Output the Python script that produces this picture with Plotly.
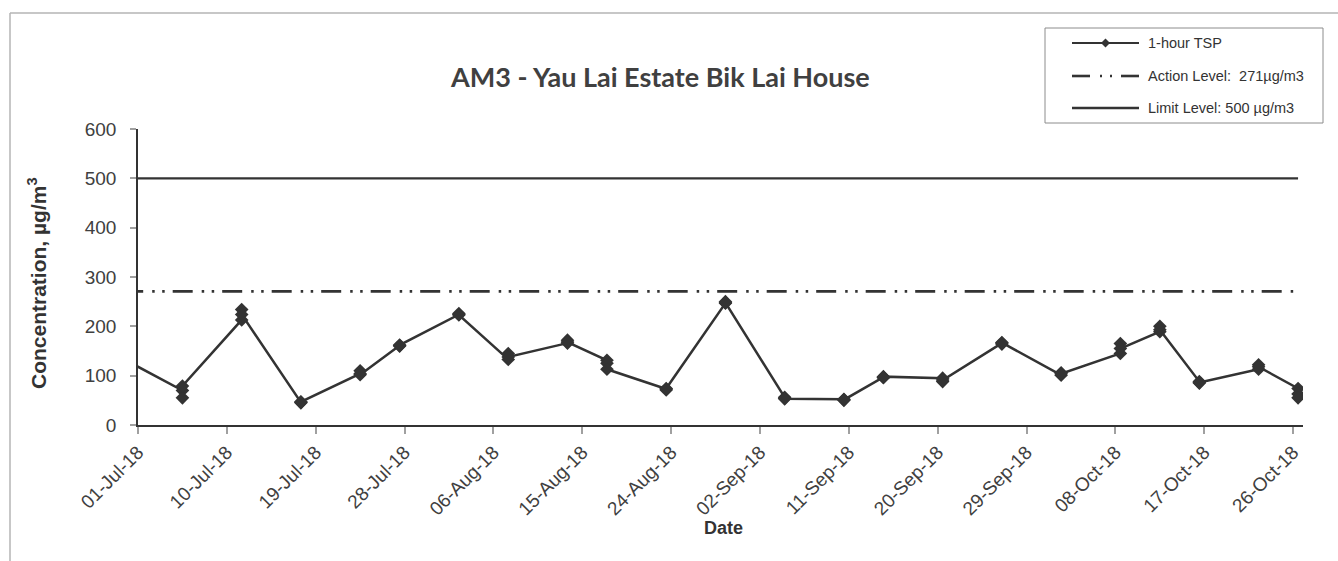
import pandas as pd
import plotly.graph_objects as go

# Monitoring days (three consecutive 1-hour readings per day)
sample_days = [
    "2018-06-29", "2018-07-05", "2018-07-11", "2018-07-17", "2018-07-23",
    "2018-07-27", "2018-08-02", "2018-08-07", "2018-08-13", "2018-08-17",
    "2018-08-23", "2018-08-29", "2018-09-04", "2018-09-10", "2018-09-14",
    "2018-09-20", "2018-09-26", "2018-10-02", "2018-10-08", "2018-10-12",
    "2018-10-16", "2018-10-22", "2018-10-26",
]
# 1-hour TSP readings, µg/m3 (three per monitoring day)
tsp_readings = [
    [140, 136, 134], [70, 55, 79], [213, 234, 224], [46, 45, 47],
    [104, 110, 102], [161, 160, 162], [224, 226, 223], [133, 145, 138],
    [166, 172, 168], [131, 125, 113], [73, 71, 74], [247, 250, 248],
    [56, 54, 53], [52, 50, 51], [97, 96, 98], [95, 88, 91],
    [166, 164, 167], [101, 106, 104], [145, 165, 155], [189, 200, 193],
    [88, 85, 86], [113, 122, 118], [74, 63, 55],
]
action_level = 271
limit_level = 500
series_names = ["1-hour TSP", "Action Level:  271µg/m3", "Limit Level: 500 µg/m3"]
chart_title = "AM3 - Yau Lai Estate Bik Lai House"
y_ticks = [0, 100, 200, 300, 400, 500, 600]

# Each day's readings sit in the middle of that day's slot on the date axis
day_centres = pd.to_datetime(sample_days) + pd.Timedelta(hours=12)
tsp_x, tsp_y = [], []
for d, vals in zip(day_centres, tsp_readings):
    for v in vals:
        tsp_x.append(d)
        tsp_y.append(v)

W, H = 1338, 561
L, R, T, B = 138, 35, 129, 136
PW, PH = W - L - R, H - T - B
INK = "#333333"
TXT = "#404040"
SANS = "Liberation Sans, Arial"


def px(x):
    return (x - L) / PW


def py(y):
    return (H - B - y) / PH


ACTION_DASH = "20px,9px,2.5px,7.5px,2.5px,8px"

fig = go.Figure()
fig.add_trace(go.Scatter(
    x=[day_centres[0], day_centres[-1]], y=[limit_level, limit_level],
    mode="lines", line=dict(color=INK, width=2.2), name=series_names[2],
    showlegend=False, hoverinfo="skip"))
fig.add_trace(go.Scatter(
    x=[day_centres[0], day_centres[-1]], y=[action_level, action_level],
    mode="lines", line=dict(color=INK, width=2.8, dash=ACTION_DASH),
    name=series_names[1], showlegend=False, hoverinfo="skip"))
fig.add_trace(go.Scatter(
    x=tsp_x, y=tsp_y, mode="lines+markers", name=series_names[0],
    line=dict(color=INK, width=2.5),
    marker=dict(symbol="diamond", size=10.5, color=INK,
                line=dict(width=0)),
    cliponaxis=True, showlegend=False))

shapes = []
# frame edges (top and left)
shapes.append(dict(type="line", xref="paper", yref="paper",
                   x0=px(10), x1=px(W + 5), y0=py(13), y1=py(13),
                   line=dict(color="#b4b4b4", width=1.5)))
shapes.append(dict(type="line", xref="paper", yref="paper",
                   x0=px(10), x1=px(10), y0=py(13), y1=py(H + 5),
                   line=dict(color="#b4b4b4", width=1.5)))

# legend box
lx0, lx1, ly0, ly1 = 1045, 1323, 28, 123
shapes.append(dict(type="rect", xref="paper", yref="paper",
                   x0=px(lx0), x1=px(lx1), y0=py(ly0), y1=py(ly1),
                   line=dict(color="#8c8c8c", width=1), fillcolor="white"))
rows = [43, 76, 108]
sx0, sx1 = 1072, 1139
shapes.append(dict(type="line", xref="paper", yref="paper",
                   x0=px(sx0), x1=px(sx1), y0=py(rows[0]), y1=py(rows[0]),
                   line=dict(color=INK, width=2.2)))
dm = 4.5
cx = (sx0 + sx1) / 2
shapes.append(dict(type="path", xref="paper", yref="paper",
                   path=(f"M {px(cx - dm)},{py(rows[0])} L {px(cx)},{py(rows[0] - dm)} "
                         f"L {px(cx + dm)},{py(rows[0])} L {px(cx)},{py(rows[0] + dm)} Z"),
                   fillcolor=INK, line=dict(width=0)))
shapes.append(dict(type="line", xref="paper", yref="paper",
                   x0=px(sx0), x1=px(sx0 + 18), y0=py(rows[1]), y1=py(rows[1]),
                   line=dict(color=INK, width=2.6)))
for dx in (29, 39):
    shapes.append(dict(type="line", xref="paper", yref="paper",
                       x0=px(sx0 + dx - 1), x1=px(sx0 + dx + 1),
                       y0=py(rows[1]), y1=py(rows[1]),
                       line=dict(color=INK, width=2.4)))
shapes.append(dict(type="line", xref="paper", yref="paper",
                   x0=px(sx1 - 18), x1=px(sx1), y0=py(rows[1]), y1=py(rows[1]),
                   line=dict(color=INK, width=2.6)))
shapes.append(dict(type="line", xref="paper", yref="paper",
                   x0=px(sx0), x1=px(sx1), y0=py(rows[2]), y1=py(rows[2]),
                   line=dict(color=INK, width=2.6)))

annotations = []
for name, ry in zip(series_names, rows):
    annotations.append(dict(xref="paper", yref="paper", x=px(1146), y=py(ry),
                            xanchor="left", yanchor="middle", showarrow=False,
                            text=name, font=dict(family=SANS, size=14.5, color=INK)))
annotations.append(dict(xref="paper", yref="paper", x=px(660), y=py(76),
                        xanchor="center", yanchor="middle", showarrow=False,
                        text=f"<b>{chart_title}</b>",
                        font=dict(family="Lato", size=27, color=TXT)))
annotations.append(dict(xref="paper", yref="paper", x=px(37), y=py(283),
                        xanchor="center", yanchor="middle", showarrow=False,
                        textangle=-90, text="<b>Concentration, µg/m<sup>3</sup></b>",
                        font=dict(family=SANS, size=21, color=INK)))
annotations.append(dict(xref="paper", yref="paper", x=px(723), y=py(528),
                        xanchor="center", yanchor="middle", showarrow=False,
                        text="<b>Date</b>",
                        font=dict(family=SANS, size=18, color=INK)))

fig.update_layout(
    width=W, height=H,
    margin=dict(l=L, r=R, t=T, b=B, pad=0),
    paper_bgcolor="white", plot_bgcolor="white",
    showlegend=False,
    shapes=shapes, annotations=annotations,
    xaxis=dict(
        type="date", range=["2018-07-01", "2018-10-27"],
        tick0="2018-07-01", dtick=9 * 86400000, tickformat="%d-%b-%y",
        tickangle=-45, ticks="outside", ticklen=7, tickcolor="#a0a0a0",
        tickwidth=1.5, showgrid=False, zeroline=False,
        showline=True, linecolor=INK, linewidth=1.5,
        tickfont=dict(family=SANS, size=19, color=TXT),
    ),
    yaxis=dict(
        range=[0, 600], tickvals=y_ticks, ticks="outside", ticklen=6,
        tickcolor="#a0a0a0", tickwidth=1.5, showgrid=False, zeroline=False,
        showline=True, linecolor=INK, linewidth=1.5, ticklabelstandoff=10,
        tickfont=dict(family=SANS, size=19, color=TXT),
    ),
)

fig.write_html("out.html")
